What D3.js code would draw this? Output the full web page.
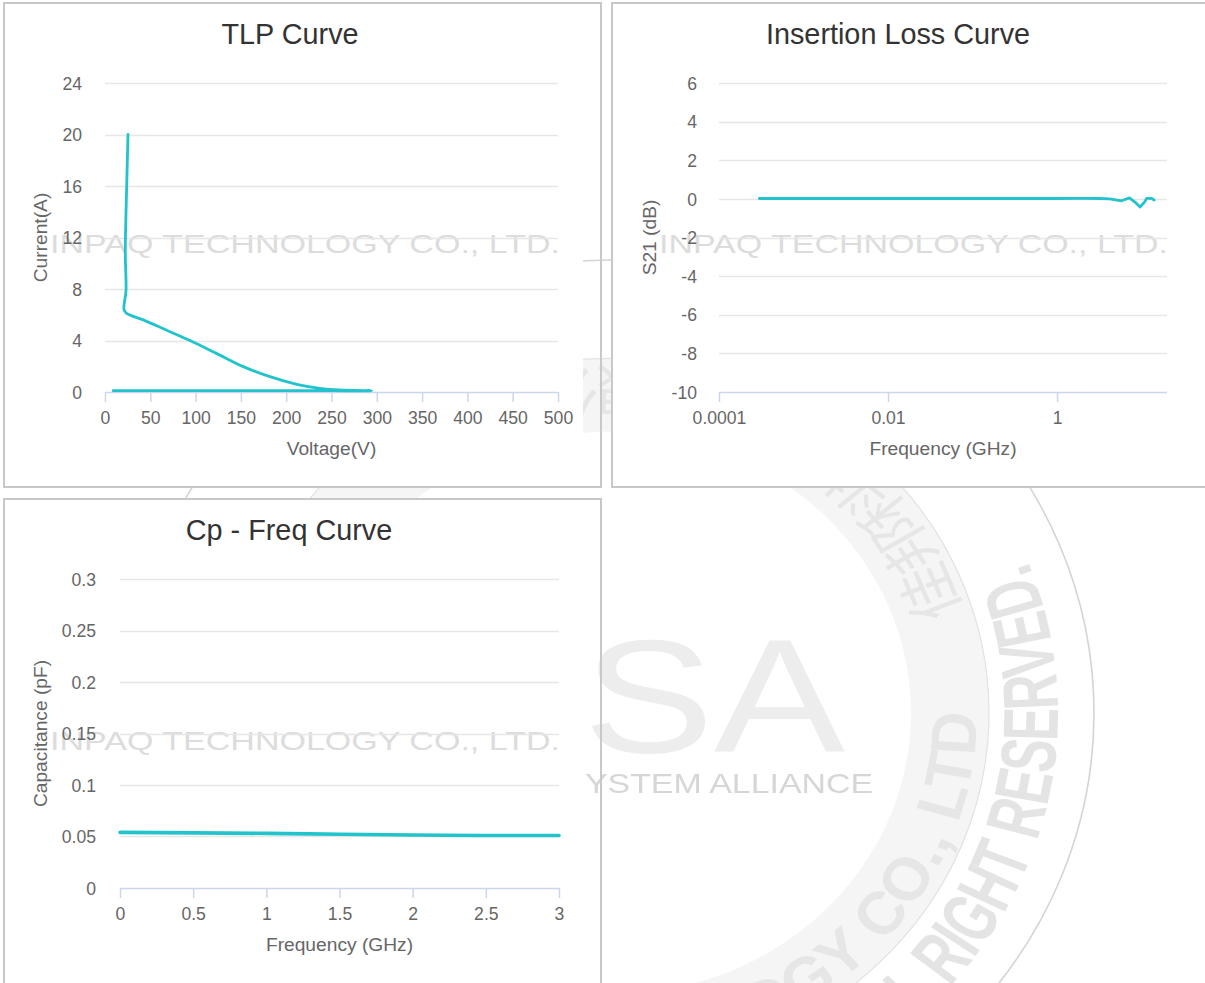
<!DOCTYPE html>
<html>
<head>
<meta charset="utf-8">
<script src="https://cdn.jsdelivr.net/npm/d3@7"></script>
<style>
  html, body { margin: 0; padding: 0; background: #ffffff; }
  svg { display: block; font-family: "Liberation Sans", Arial, Helvetica, sans-serif; }
</style>
</head>
<body>
<svg id="chart" width="1205" height="983"></svg>
<script>
// ---------------- DATA ----------------
// TLP curve (Voltage V, Current A) in drawing order
const tlpVoltage = [9, 50, 100, 150, 200, 250, 294, 259, 237, 211.6, 182, 152.6, 123, 93.8, 68, 42.3, 23.9, 21, 23.2, 22.4, 23.9, 25.4];
const tlpCurrent = [0.1, 0.1, 0.1, 0.1, 0.1, 0.1, 0.1, 0.16, 0.29, 0.6, 1.19, 1.97, 3.0, 4.0, 4.8, 5.6, 6.1, 6.4, 7.9, 10.8, 15.9, 20.0];
const tlpXTicks = [0, 50, 100, 150, 200, 250, 300, 350, 400, 450, 500];
const tlpYTicks = [0, 4, 8, 12, 16, 20, 24];

// Insertion loss (Frequency GHz, S21 dB)
const ilFreq = [0.0003, 0.001, 0.01, 0.1, 1, 2, 3.2, 4.2, 5.8, 7.2, 8.4, 9.6, 11.0, 11.5, 13.2, 14.1];
const ilS21  = [0.02, 0.02, 0.02, 0.02, 0.02, 0.03, 0.02, 0.0, -0.1, 0.05, -0.18, -0.42, -0.13, 0.03, 0.03, -0.06];
const ilXTicks = [0.0001, 0.01, 1];
const ilXTickLabels = ["0.0001", "0.01", "1"];
const ilYTicks = [-10, -8, -6, -4, -2, 0, 2, 4, 6];

// Cp - Freq (Frequency GHz, Capacitance pF)
const cpFreq = [0, 0.5, 1, 1.5, 2, 2.5, 3];
const cpCap  = [0.054, 0.0535, 0.053, 0.0522, 0.0515, 0.051, 0.051];
const cpXTicks = [0, 0.5, 1, 1.5, 2, 2.5, 3];
const cpYTicks = [0, 0.05, 0.1, 0.15, 0.2, 0.25, 0.3];

// ---------------- STYLE ----------------
const LINE = "#22c3cc";
const GRID = "#e6e6e6";
const AXIS = "#ccd6eb";
const LABEL = "#666666";
const TITLE = "#333333";
const BORDER = "#c8c8c8";

const svg = d3.select("#chart");
const defs = svg.append("defs");

// panel boxes [x, y, w, h]
const boxes = [[4, 3, 597, 484], [612, 3, 594, 484], [4, 499, 597, 500]];

// white panel backgrounds
svg.append("g").selectAll("rect").data(boxes).join("rect")
  .attr("x", d => d[0]).attr("y", d => d[1]).attr("width", d => d[2]).attr("height", d => d[3])
  .attr("fill", "#ffffff");

// ---------------- BACKGROUND WATERMARK (masked by chart areas) ----------------
const mask = defs.append("mask").attr("id", "wmMask");
mask.append("rect").attr("x", 0).attr("y", 0).attr("width", 1205).attr("height", 983).attr("fill", "#fff");
mask.append("rect").attr("x", 0).attr("y", 0).attr("width", 583).attr("height", 488).attr("fill", "#000");
mask.append("rect").attr("x", 0).attr("y", 499).attr("width", 583).attr("height", 484).attr("fill", "#000");
mask.append("rect").attr("x", 612).attr("y", 3).attr("width", 594).attr("height", 485).attr("fill", "#000");

const cx = 611, cy = 713;
function ringPath(id, r) {
  defs.append("path").attr("id", id)
    .attr("d", `M ${cx - r} ${cy} A ${r} ${r} 0 1 0 ${cx + r} ${cy} A ${r} ${r} 0 1 0 ${cx - r} ${cy}`);
}
ringPath("ringInner", 366);
ringPath("ringOuter", 447);
ringPath("ringCJK", 366);

const wmOuter = svg.append("g").attr("mask", "url(#wmMask)");
const wm = wmOuter.append("g")
  .attr("transform", `translate(${cx},${cy}) scale(1,0.938) translate(${-cx},${-cy})`);
wm.append("path")
  .attr("d", d3.arc()({innerRadius: 300, outerRadius: 378, startAngle: 0, endAngle: 2 * Math.PI}))
  .attr("transform", `translate(${cx},${cy})`)
  .attr("fill", "#f5f5f5");
wm.append("circle").attr("cx", cx).attr("cy", cy).attr("r", 483)
  .attr("fill", "none").attr("stroke", "#d4d4d4").attr("stroke-width", 1.6);
wm.append("circle").attr("cx", cx).attr("cy", cy).attr("r", 378)
  .attr("fill", "none").attr("stroke", "#e2e2e2").attr("stroke-width", 1.2);
wm.append("text").attr("fill", "#e6e6e6").attr("font-size", 64).attr("font-weight", "bold")
  .attr("text-anchor", "end")
  .append("textPath").attr("href", "#ringInner").attr("startOffset", Math.PI * 366)
  .text("INPAQ TECHNOLOGY CO., LTD");
wm.append("text").attr("fill", "#e6e6e6").attr("font-size", 60)
  .attr("font-family", "'Noto Sans CJK TC', 'Noto Sans CJK SC', sans-serif")
  .append("textPath").attr("href", "#ringCJK").attr("startOffset", 366 * (Math.PI + 0.3))
  .text("佳邦科技股份有限公司");
wm.append("text").attr("fill", "#e4e4e4").attr("font-size", 78).attr("font-weight", "bold")
  .attr("font-family", "'Liberation Sans Narrow', 'Liberation Sans', sans-serif")
  .attr("text-anchor", "end")
  .append("textPath").attr("href", "#ringOuter").attr("startOffset", 447 * (Math.PI + 0.37))
  .attr("textLength", 600).attr("lengthAdjust", "spacingAndGlyphs")
  .text("ALL RIGHT RESERVED.");
wmOuter.append("text").attr("x", 583).attr("y", 752)
  .attr("textLength", 262).attr("lengthAdjust", "spacingAndGlyphs")
  .attr("font-size", 162).attr("fill", "#ededed").text("SA");
wmOuter.append("text").attr("x", 585).attr("y", 793)
  .attr("textLength", 288).attr("lengthAdjust", "spacingAndGlyphs")
  .attr("font-size", 28).attr("fill", "#d6d6d6").text("YSTEM ALLIANCE");

// ---------------- PANEL HELPER ----------------
function panel(cfg) {
  const g = svg.append("g");

  // watermark text in panel
  g.append("text")
    .attr("x", cfg.wm[0]).attr("y", cfg.wm[1])
    .attr("textLength", cfg.wm[2]).attr("lengthAdjust", "spacingAndGlyphs")
    .attr("font-size", 26).attr("fill", "#dcdcdc")
    .text("INPAQ TECHNOLOGY CO., LTD.");

  const x = cfg.x, y = cfg.y;
  const [x0, x1] = x.range();
  const [y0, y1] = y.range();

  // grid lines
  g.append("g").selectAll("line").data(cfg.yTicks.filter(d => d !== y.domain()[0])).join("line")
    .attr("x1", x0).attr("x2", x1)
    .attr("y1", d => Math.round(y(d)) + 0.5).attr("y2", d => Math.round(y(d)) + 0.5)
    .attr("stroke", GRID).attr("stroke-width", 1.5);

  // y axis labels via d3 axis
  const yAxis = g.append("g").attr("transform", `translate(${x0},0)`)
    .call(d3.axisLeft(y).tickValues(cfg.yTicks).tickSize(0).tickPadding(cfg.yPad).tickFormat(cfg.yFmt));
  yAxis.select(".domain").remove();
  yAxis.selectAll("text").attr("fill", LABEL).attr("font-size", 17.6)
    .attr("font-family", "Liberation Sans, Arial, sans-serif").attr("dy", "0.35em");

  // x axis
  const xAxis = g.append("g").attr("transform", `translate(0,${y0})`)
    .call(d3.axisBottom(x).tickValues(cfg.xTicks).tickSize(10).tickPadding(5).tickFormat(cfg.xFmt));
  xAxis.select(".domain").attr("stroke", AXIS).attr("stroke-width", 1.5).attr("d", `M${x0},0.5H${x1}`);
  xAxis.selectAll(".tick line").attr("stroke", AXIS).attr("stroke-width", 1.5);
  xAxis.selectAll("text").attr("fill", LABEL).attr("font-size", 17.6)
    .attr("font-family", "Liberation Sans, Arial, sans-serif").attr("dy", "0.95em");

  // data line
  const pts = cfg.xs.map((v, i) => [v, cfg.ys[i]]);
  g.append("path").datum(pts)
    .attr("fill", "none").attr("stroke", LINE).attr("stroke-width", cfg.lw)
    .attr("stroke-linejoin", "round").attr("stroke-linecap", "round")
    .attr("d", d3.line().x(d => x(d[0])).y(d => y(d[1])).curve(cfg.curve));

  // titles
  g.append("text").attr("x", cfg.titlePos[0]).attr("y", cfg.titlePos[1])
    .attr("text-anchor", "middle").attr("font-size", 28.8).attr("fill", TITLE).text(cfg.title);
  g.append("text").attr("x", (x0 + x1) / 2).attr("y", y0 + 63)
    .attr("text-anchor", "middle").attr("font-size", 19.2).attr("fill", LABEL).text(cfg.xTitle);
  g.append("text")
    .attr("transform", `translate(${cfg.yTitleX},${(y0 + y1) / 2}) rotate(-90)`)
    .attr("text-anchor", "middle").attr("font-size", 19.2).attr("fill", LABEL).text(cfg.yTitle);
}

const plain = d => String(d);

// TLP panel
panel({
  wm: [50, 253, 510],
  x: d3.scaleLinear().domain([0, 500]).range([105, 558]),
  y: d3.scaleLinear().domain([0, 24]).range([392, 83]),
  xTicks: tlpXTicks, yTicks: tlpYTicks,
  xFmt: plain, yFmt: plain, yPad: 23,
  xs: tlpVoltage, ys: tlpCurrent, lw: 2.8,
  curve: d3.curveCatmullRom.alpha(0.5),
  title: "TLP Curve", titlePos: [290, 44],
  xTitle: "Voltage(V)", yTitle: "Current(A)", yTitleX: 47
});

// Insertion loss panel
panel({
  wm: [659, 253, 509],
  x: d3.scaleLog().domain([0.0001, 20]).range([719, 1167]),
  y: d3.scaleLinear().domain([-10, 6]).range([392, 83]),
  xTicks: ilXTicks, yTicks: ilYTicks,
  xFmt: (d) => ilXTickLabels[ilXTicks.indexOf(d)], yFmt: plain, yPad: 22,
  xs: ilFreq, ys: ilS21, lw: 2.8,
  curve: d3.curveLinear,
  title: "Insertion Loss Curve", titlePos: [898, 44],
  xTitle: "Frequency (GHz)", yTitle: "S21 (dB)", yTitleX: 656
});

// Cp - Freq panel
panel({
  wm: [50, 750, 510],
  x: d3.scaleLinear().domain([0, 3]).range([120, 559]),
  y: d3.scaleLinear().domain([0, 0.3]).range([888, 579]),
  xTicks: cpXTicks, yTicks: cpYTicks,
  xFmt: plain, yFmt: plain, yPad: 24,
  xs: cpFreq, ys: cpCap, lw: 3.6,
  curve: d3.curveMonotoneX,
  title: "Cp - Freq Curve", titlePos: [289, 540],
  xTitle: "Frequency (GHz)", yTitle: "Capacitance (pF)", yTitleX: 47
});

// panel borders on top
svg.append("g").selectAll("rect").data(boxes).join("rect")
  .attr("x", d => d[0]).attr("y", d => d[1]).attr("width", d => d[2]).attr("height", d => d[3])
  .attr("fill", "none").attr("stroke", BORDER).attr("stroke-width", 2);
</script>
</body>
</html>
